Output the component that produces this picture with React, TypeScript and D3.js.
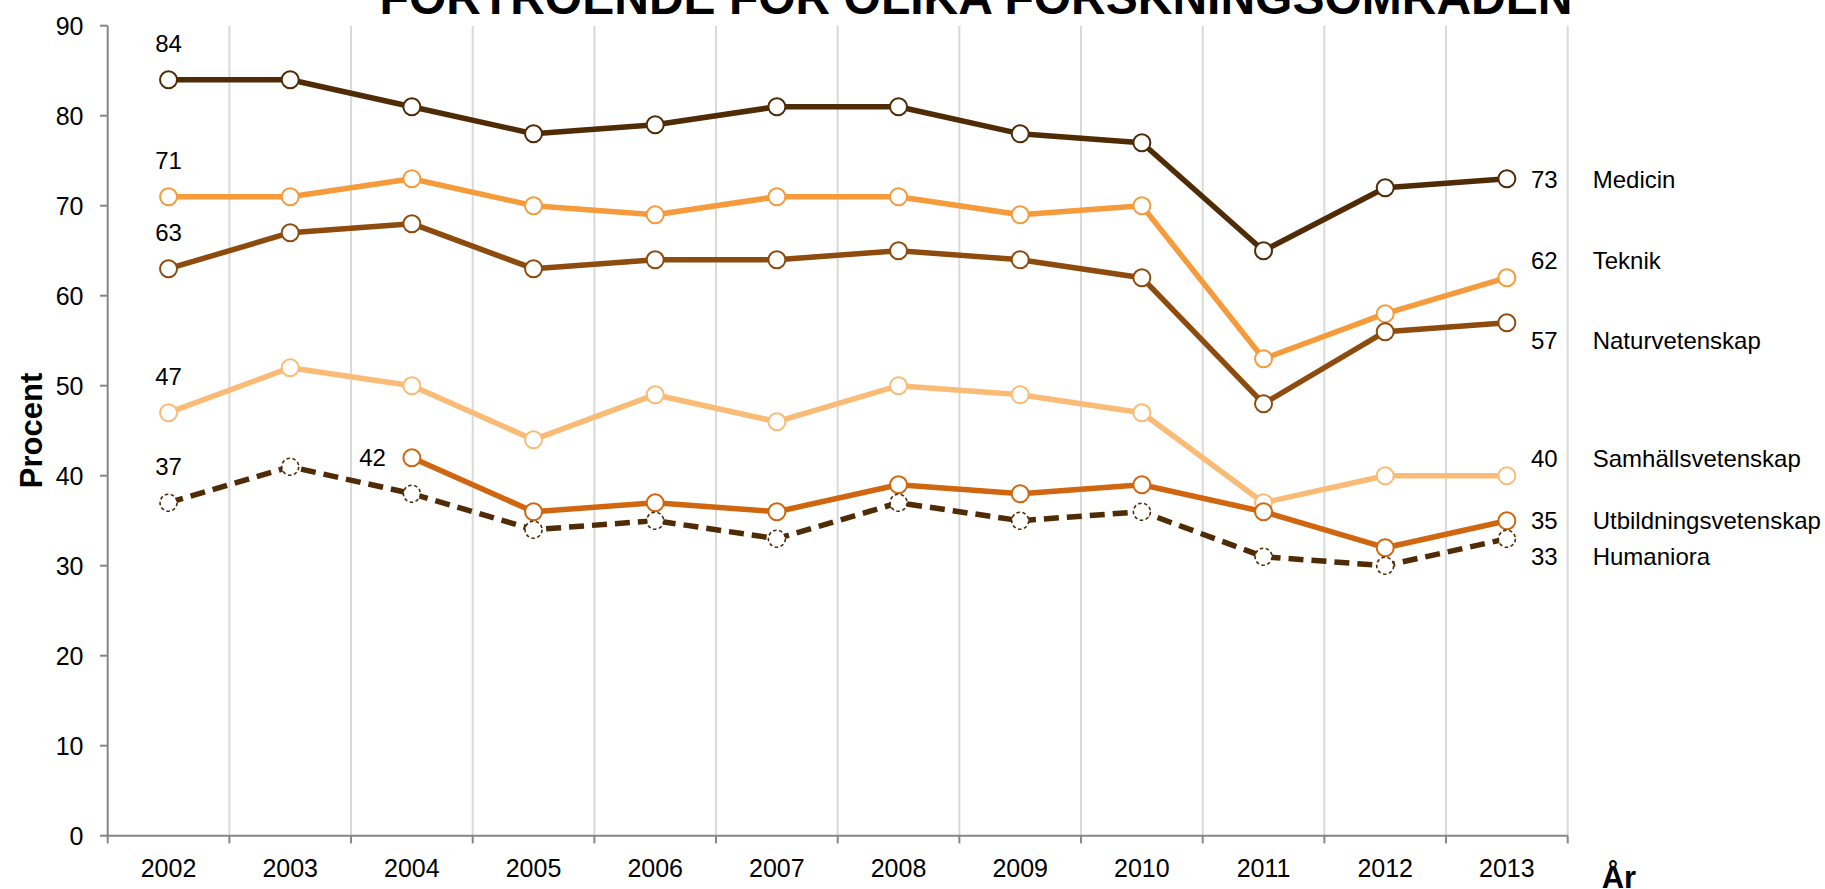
import React from "react";
import * as d3 from "d3";

const years = ["2002", "2003", "2004", "2005", "2006", "2007", "2008", "2009", "2010", "2011", "2012", "2013"];
const seriesNames = ["Medicin", "Teknik", "Naturvetenskap", "Samhällsvetenskap", "Utbildningsvetenskap", "Humaniora"];
const medicin = [84, 84, 81, 78, 79, 81, 81, 78, 77, 65, 72, 73];
const teknik = [71, 71, 73, 70, 69, 71, 71, 69, 70, 53, 58, 62];
const naturvetenskap = [63, 67, 68, 63, 64, 64, 65, 64, 62, 48, 56, 57];
const samhallsvetenskap = [47, 52, 50, 44, 49, 46, 50, 49, 47, 37, 40, 40];
const utbildningsvetenskap = [null, null, 42, 36, 37, 36, 39, 38, 39, 36, 32, 35];
const humaniora = [37, 41, 38, 34, 35, 33, 37, 35, 36, 31, 30, 33];
const yTicks = [0, 10, 20, 30, 40, 50, 60, 70, 80, 90];

const seriesValues: (number | null)[][] = [medicin, teknik, naturvetenskap, samhallsvetenskap, utbildningsvetenskap, humaniora];
const colors = ["#4f2b06", "#f59b3b", "#8d4b0d", "#f9bb76", "#d0660f", "#4f2b06"];
const dashed = [false, false, false, false, false, true];
const firstLabelPos = ["above", "above", "above", "above", "left", "above"];
const endLabelDy = [9.4, -9, 26, -9, 8.5, 26];

const W = 1825;
const H = 889;
const FONT = "Arial, 'Liberation Sans', Helvetica, sans-serif";

export default function App() {
  const x = d3.scaleBand<string>().domain(years).range([107.7, 1567.7]).padding(0);
  const y = d3.scaleLinear().domain([0, 90]).range([835.7, 25.7]);
  const cx = (yr: string) => (x(yr) as number) + x.bandwidth() / 2;
  const bounds = years.map((yr) => (x(yr) as number) + x.bandwidth());
  const x0 = x.range()[0];
  const x1 = x.range()[1];

  return (
    <div style={{ position: "absolute", left: 0, top: 0, width: W, height: H, background: "#fff" }}>
      <svg width={W} height={H} style={{ display: "block" }} fontFamily={FONT}>
        <rect x={0} y={0} width={W} height={H} fill="#fff" />
        {bounds.map((bx, i) => (
          <line key={"g" + i} x1={bx} x2={bx} y1={y(90)} y2={y(0)} stroke="#d9d9d9" strokeWidth={2} />
        ))}
        <line x1={x0} x2={x0} y1={y(90)} y2={y(0)} stroke="#868686" strokeWidth={2} />
        <line x1={x0} x2={x1} y1={y(0)} y2={y(0)} stroke="#868686" strokeWidth={2} />
        {yTicks.map((t) => (
          <g key={"yt" + t}>
            <line x1={x0 - 7.7} x2={x0} y1={y(t)} y2={y(t)} stroke="#868686" strokeWidth={2} />
            <text x={83.5} y={y(t) + 8.8} textAnchor="end" fontSize={25} fill="#000">
              {t}
            </text>
          </g>
        ))}
        {[x0, ...bounds].map((bx, i) => (
          <line key={"xt" + i} x1={bx} x2={bx} y1={y(0)} y2={y(0) + 7.7} stroke="#868686" strokeWidth={2} />
        ))}
        {years.map((yr) => (
          <text key={"xl" + yr} x={cx(yr)} y={876.7} textAnchor="middle" fontSize={25} fill="#000">
            {yr}
          </text>
        ))}
        <text
          transform={`translate(41.7, 430.5) rotate(-90)`}
          textAnchor="middle"
          fontSize={31}
          fontWeight="bold"
          fill="#000"
        >
          Procent
        </text>
        <text x={1601.7} y={888} fontSize={31} fontWeight="bold" fill="#000">
          År
        </text>
        <text x={976} y={14} textAnchor="middle" fontSize={48} fontWeight="bold" fill="#000">
          FÖRTROENDE FÖR OLIKA FORSKNINGSOMRÅDEN
        </text>
        {seriesValues.map((vals, si) => {
          const pts = years
            .map((yr, i) => ({ yr, v: vals[i] }))
            .filter((p) => p.v !== null) as { yr: string; v: number }[];
          const line = d3
            .line<{ yr: string; v: number }>()
            .x((p) => cx(p.yr))
            .y((p) => y(p.v));
          const first = pts[0];
          const last = pts[pts.length - 1];
          return (
            <g key={"s" + si}>
              <path
                d={line(pts) || ""}
                fill="none"
                stroke={colors[si]}
                strokeWidth={5.5}
                strokeDasharray={dashed[si] ? "15,8" : undefined}
                strokeLinejoin="round"
              />
              {pts.map((p) => (
                <circle
                  key={"m" + p.yr}
                  cx={cx(p.yr)}
                  cy={y(p.v)}
                  r={8.5}
                  fill="#fff"
                  stroke={colors[si]}
                  strokeWidth={dashed[si] ? 1.6 : 2}
                  strokeDasharray={dashed[si] ? "3.5,2.5" : undefined}
                />
              ))}
              {firstLabelPos[si] === "above" ? (
                <text x={cx(first.yr)} y={y(first.v) - 27.3} textAnchor="middle" fontSize={24} fill="#000">
                  {first.v}
                </text>
              ) : (
                <text x={cx(first.yr) - 26} y={y(first.v) + 8.5} textAnchor="end" fontSize={24} fill="#000">
                  {first.v}
                </text>
              )}
              <text x={1531} y={y(last.v) + endLabelDy[si]} fontSize={24} fill="#000">
                {last.v}
              </text>
              <text x={1592.7} y={y(last.v) + endLabelDy[si]} fontSize={24} fill="#000">
                {seriesNames[si]}
              </text>
            </g>
          );
        })}
      </svg>
    </div>
  );
}
